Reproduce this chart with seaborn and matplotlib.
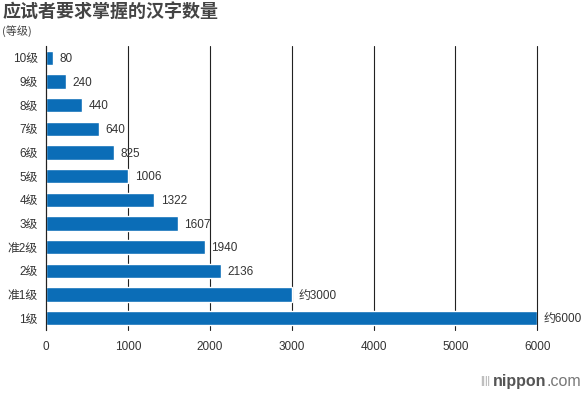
import numpy as np
import pandas as pd
import matplotlib
matplotlib.use('Agg')
import matplotlib.pyplot as plt
import seaborn as sns

# Data
levels = ['10级', '9级', '8级', '7级', '6级', '5级', '4级', '3级', '准2级', '2级', '准1级', '1级']
counts = [80, 240, 440, 640, 825, 1006, 1322, 1607, 1940, 2136, 3000, 6000]
labels = ['80', '240', '440', '640', '825', '1006', '1322', '1607', '1940', '2136', '约3000', '约6000']
xticks = [0, 1000, 2000, 3000, 4000, 5000, 6000]

df = pd.DataFrame({'level': levels, 'count': counts})

sns.set_style('white')
plt.rcParams['font.family'] = ['Liberation Sans', 'Noto Sans CJK SC', 'DejaVu Sans']

fig = plt.figure(figsize=(5.84, 3.93), dpi=100)
ax = fig.add_axes([0.079, 0.16, 0.841, 0.723])

sns.barplot(data=df, x='count', y='level', orient='h', color='#0b6db7',
            saturation=1, width=0.6, ax=ax)

ax.set_xlim(0, 6000)
ax.set_ylim(len(levels) - 0.5, -0.5)
ax.set_xticks(xticks)
ax.xaxis.grid(True, color='#222222', linewidth=0.8)
for gl in ax.get_xgridlines():
    gl.set_clip_on(False)
ax.set_axisbelow(True)
for s in ['top', 'right', 'bottom']:
    ax.spines[s].set_visible(False)
ax.spines['left'].set_color('#222222')
ax.spines['left'].set_linewidth(0.8)
ax.tick_params(axis='both', length=0, labelsize=8.5, colors='#333333', pad=6)
ax.tick_params(axis='x', pad=8)
ax.set_xlabel('')
ax.set_ylabel('')

for i, (v, t) in enumerate(zip(counts, labels)):
    ax.text(v + 80, i + 0.05, t, va='center', ha='left', fontsize=8.5, color='#333333')

fig.text(0.005, 0.968, '应试者要求掌握的汉字数量', fontsize=13, fontweight='bold',
         color='#444444', va='center', ha='left',
         family=['Noto Sans CJK SC', 'DejaVu Sans'])
fig.text(0.003, 0.922, '(等级)', fontsize=8, color='#444444', va='center', ha='left',
         family=['Noto Sans CJK SC', 'DejaVu Sans'])

# nippon.com mark
com = fig.text(0.995, 0.03, '.com', fontsize=11.5, color='#777777', va='center', ha='right')
fig.canvas.draw()
bb = com.get_window_extent()
x0 = bb.x0 / fig.bbox.width
nip = fig.text(x0, 0.03, 'nippon', fontsize=11.5, fontweight='bold', color='#555555',
               va='center', ha='right')
fig.canvas.draw()
bb2 = nip.get_window_extent()
fig.text(bb2.x0 / fig.bbox.width - 0.005, 0.03, '||||', fontsize=7, color='#999999',
         va='center', ha='right')

fig.savefig('out.png', dpi=100)
